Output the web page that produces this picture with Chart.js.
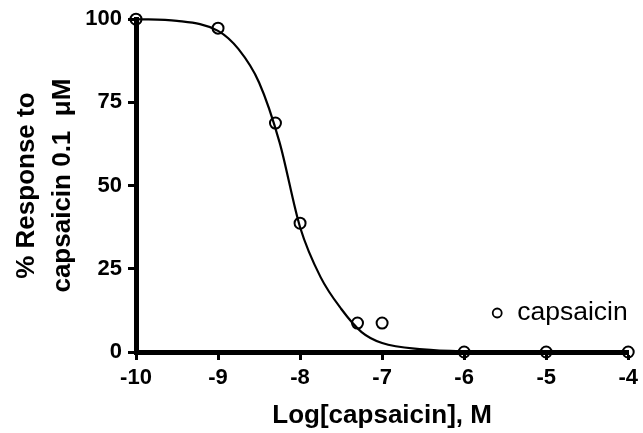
<!DOCTYPE html>
<html>
<head>
<meta charset="utf-8">
<script src="https://cdn.jsdelivr.net/npm/chart.js@4.4.0/dist/chart.umd.min.js"></script>
<style>
  body { margin: 0; background: #fff; }
  #wrap { width: 643px; height: 433px; }
</style>
</head>
<body>
<div id="wrap"><canvas id="chart" width="643" height="433"></canvas></div>
<script>
// measured points (log M, % response)
var logConc = [-10, -9, -8.3, -8, -7.3, -7, -6, -5, -4];
var response = [100, 97.3, 68.8, 38.7, 8.7, 8.7, 0, 0, 0];

// fitted curve
var fitX = [-10, -9.5, -9, -8.75, -8.5, -8.25, -8, -7.75, -7.5, -7.25, -7, -6.5, -6, -5, -4];
var fitY = [100, 99.5, 96.5, 91, 81, 63, 37.5, 22.5, 13, 6, 2.7, 0.8, 0.2, 0, 0];

var xTicks = [-10, -9, -8, -7, -6, -5, -4];
var yTicks = [0, 25, 50, 75, 100];
var seriesName = 'capsaicin';

var FONT = '"Liberation Sans", Arial, Helvetica, sans-serif';

var legendPlugin = {
    id: 'cornerLegend',
    afterDraw: function (chart) {
        var ctx = chart.ctx, area = chart.chartArea;
        var x = area.right - 131, y = area.bottom - 39;
        ctx.save();
        ctx.beginPath();
        ctx.arc(x, y, 4.5, 0, Math.PI * 2);
        ctx.lineWidth = 1.8;
        ctx.strokeStyle = '#000';
        ctx.stroke();
        ctx.font = '26.5px ' + FONT;
        ctx.fillStyle = '#000';
        ctx.textBaseline = 'middle';
        ctx.fillText(seriesName, x + 20, y);
        ctx.restore();
    }
};

var ctx = document.getElementById('chart').getContext('2d');

var chart = new Chart(ctx, {
    type: 'scatter',
    data: {
        datasets: [
            {
                label: seriesName,
                data: logConc.map((x, i) => ({ x: x, y: response[i] })),
                pointStyle: 'circle',
                pointRadius: 5.5,
                pointBorderWidth: 2,
                pointBorderColor: '#000',
                pointBackgroundColor: 'rgba(0,0,0,0)',
                showLine: false,
                clip: false,
                order: 0
            },
            {
                label: 'fit',
                data: fitX.map((x, i) => ({ x: x, y: fitY[i] })),
                showLine: true,
                borderColor: '#000',
                borderWidth: 2.2,
                pointRadius: 0,
                cubicInterpolationMode: 'monotone',
                clip: false,
                order: 1
            }
        ]
    },
    options: {
        responsive: false,
        animation: false,
        layout: { padding: { top: 19, right: 14, left: 0, bottom: 0 } },
        plugins: {
            legend: { display: false },
            tooltip: { enabled: false }
        },
        scales: {
            x: {
                type: 'linear',
                min: -10,
                max: -4,
                afterBuildTicks: function (scale) { scale.ticks = xTicks.map(v => ({ value: v })); },
                afterFit: function (scale) { scale.height = 81; },
                grid: { drawOnChartArea: false, tickLength: 8, tickWidth: 3, tickColor: '#000' },
                border: { display: true, color: '#000', width: 5 },
                ticks: { color: '#000', padding: 5, font: { family: FONT, size: 22, weight: 'bold' } },
                title: {
                    display: true,
                    text: 'Log[capsaicin], M',
                    color: '#000',
                    padding: { top: 0, bottom: 2 },
                    font: { family: FONT, size: 26, weight: 'bold', lineHeight: 1.2 }
                }
            },
            y: {
                min: 0,
                max: 100,
                afterBuildTicks: function (scale) { scale.ticks = yTicks.map(v => ({ value: v })); },
                afterFit: function (scale) { scale.width = 136; },
                grid: { drawOnChartArea: false, tickLength: 8, tickWidth: 3, tickColor: '#000' },
                border: { display: true, color: '#000', width: 5 },
                ticks: { color: '#000', padding: 6, font: { family: FONT, size: 22, weight: 'bold' } },
                title: {
                    display: true,
                    text: ['% Response to', 'capsaicin 0.1  \u03bcM'],
                    color: '#000',
                    padding: { top: 9, bottom: 0 },
                    font: { family: FONT, size: 26, weight: 'bold', lineHeight: 1.38 }
                }
            }
        }
    },
    plugins: [legendPlugin]
});
</script>
</body>
</html>
